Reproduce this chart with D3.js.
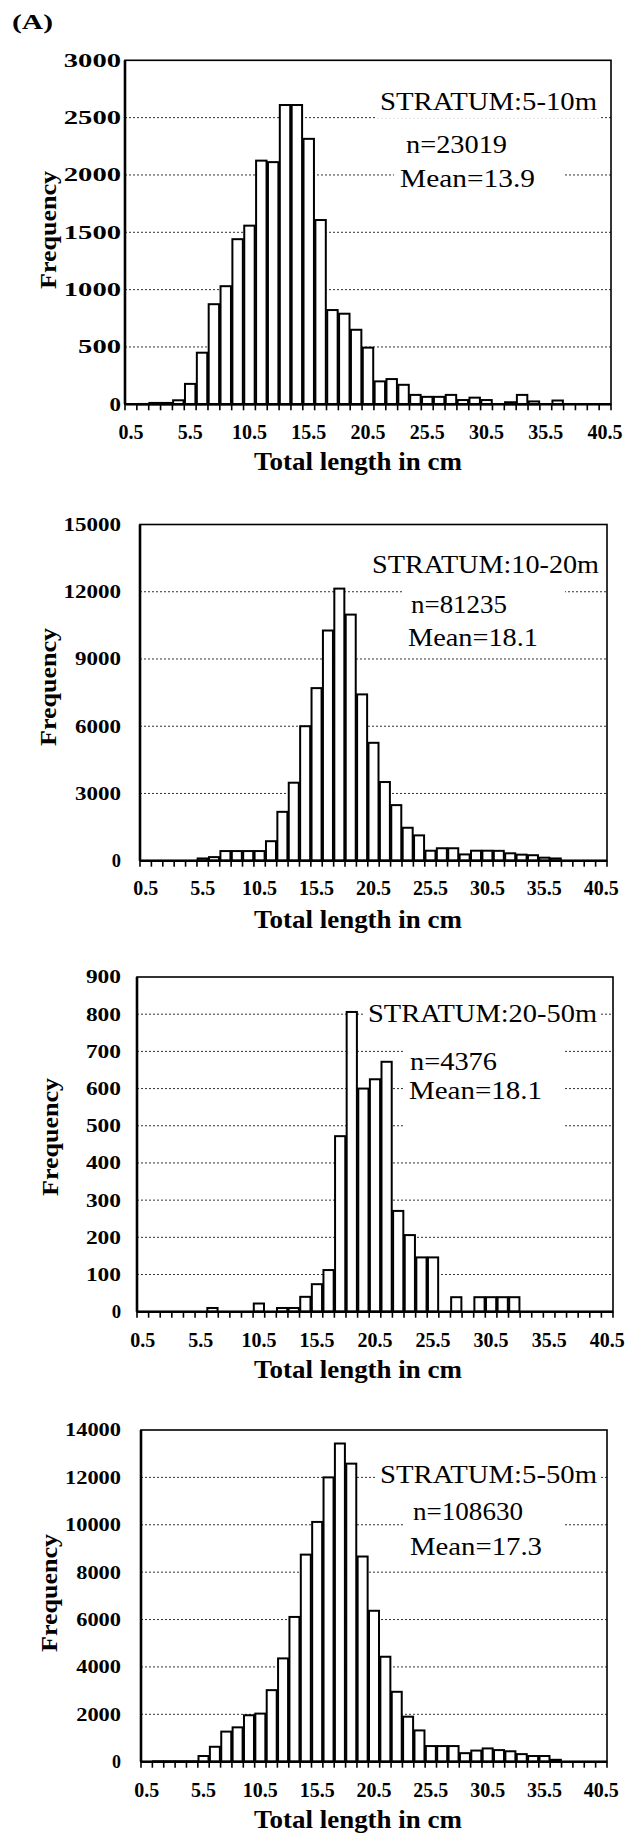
<!DOCTYPE html>
<html><head><meta charset="utf-8">
<script src="https://cdn.jsdelivr.net/npm/d3@7"></script>
<style>body{margin:0;background:#fff}svg{display:block}</style>
</head><body>
<svg id="c" width="631" height="1840"></svg>
<script>
// ---------------- DATA ----------------
const categories = ["0.5","1.5","2.5","3.5","4.5","5.5","6.5","7.5","8.5","9.5",
  "10.5","11.5","12.5","13.5","14.5","15.5","16.5","17.5","18.5","19.5",
  "20.5","21.5","22.5","23.5","24.5","25.5","26.5","27.5","28.5","29.5",
  "30.5","31.5","32.5","33.5","34.5","35.5","36.5","37.5","38.5","39.5","40.5"];
const xTickLabels = ["0.5","5.5","10.5","15.5","20.5","25.5","30.5","35.5","40.5"];

const freq5to10 = [0,3,12,12,35,178,450,873,1030,1440,
  1558,2125,2112,2610,2610,2315,1607,822,790,650,
  494,200,220,170,82,65,65,82,37,58,
  37,0,18,82,25,0,33,0,0,0,0];
const freq10to20 = [0,0,0,0,0,100,160,430,430,430,
  430,870,2180,3480,6000,7700,10270,12140,10980,7420,
  5260,3510,2480,1470,1130,445,555,555,280,445,
  445,440,330,270,245,135,100,0,0,0,0];
const freq20to50 = [0,0,0,0,0,0,10,0,0,0,
  22,0,10,10,40,74,112,472,806,600,
  625,672,271,206,146,146,0,39,0,39,
  39,39,39,0,0,0,0,0,0,0,0];
const freq5to50 = [0,15,15,15,15,240,630,1270,1450,1960,
  2030,3020,4360,6110,8740,10120,12000,13430,12580,8660,
  6370,4430,2950,1900,1320,660,660,660,360,470,
  560,490,440,320,240,240,80,0,0,0,0];

const yTicks5to10 = [0,500,1000,1500,2000,2500,3000];
const yTicks10to20 = [0,3000,6000,9000,12000,15000];
const yTicks20to50 = [0,100,200,300,400,500,600,700,800,900];
const yTicks5to50 = [0,2000,4000,6000,8000,10000,12000,14000];

const stratumLabels = ["STRATUM:5-10m","STRATUM:10-20m","STRATUM:20-50m","STRATUM:5-50m"];
const nLabels = ["n=23019","n=81235","n=4376","n=108630"];
const meanLabels = ["Mean=13.9","Mean=18.1","Mean=18.1","Mean=17.3"];
const panelTag = "(A)";
const xTitle = "Total length in cm";
const yTitle = "Frequency";

const series = [freq5to10, freq10to20, freq20to50, freq5to50];
const yTickSets = [yTicks5to10, yTicks10to20, yTicks20to50, yTicks5to50];

// ---------------- LAYOUT ----------------
const layout = [
  {x0:125, x1:611, yb:404.3, yt:60.3, cw:14.3, xlb:439, tb:470, fx:56, fy:230,
   s:{x:380,b:110,w:217}, n:{x:406,b:153,w:101}, m:{x:400,b:187,w:135}, bb:10},
  {x0:140, x1:607, yb:860.7, yt:524.5, cw:11.5, xlb:895, tb:928, fx:56, fy:687,
   s:{x:372,b:573,w:227}, n:{x:411,b:613,w:96}, m:{x:408,b:646,w:130}, bb:10},
  {x0:137, x1:613, yb:1311.7, yt:977, cw:11.7, xlb:1347, tb:1378, fx:58, fy:1137,
   s:{x:368,b:1022,w:229}, n:{x:410,b:1070,w:87}, m:{x:409,b:1099,w:133}, bb:30},
  {x0:141, x1:607, yb:1761.7, yt:1430, cw:11.2, xlb:1797, tb:1828, fx:57, fy:1593,
   s:{x:380,b:1483,w:217}, n:{x:413,b:1520,w:110}, m:{x:410,b:1555,w:132}, bb:8}
];

const FONT = "'Liberation Serif','Times New Roman',serif";
const svg = d3.select("#c");

svg.append("text").attr("x",12).attr("y",29)
  .attr("font-family",FONT).attr("font-weight","bold").attr("font-size",22)
  .attr("textLength",41).attr("lengthAdjust","spacingAndGlyphs")
  .text(panelTag);

layout.forEach((L, p) => {
  const data = series[p];
  const ticks = yTickSets[p];
  const yMax = ticks[ticks.length-1];
  const g = svg.append("g");

  const x = d3.scaleBand().domain(categories).range([L.x0, L.x1]).padding(0);
  const y = d3.scaleLinear().domain([0, yMax]).range([L.yb, L.yt]);
  const bw = x.bandwidth();

  // gridlines
  g.selectAll("line.grid").data(ticks.filter(t => t > 0 && t < yMax)).enter()
    .append("line").attr("class","grid")
    .attr("x1", L.x0).attr("x2", L.x1)
    .attr("y1", d => y(d)).attr("y2", d => y(d))
    .attr("stroke","#333").attr("stroke-width",1).attr("stroke-dasharray","2,2");

  // bars
  g.selectAll("rect.bar").data(categories.map((c,i)=>({c, v:data[i]})).filter(d=>d.v>0)).enter()
    .append("rect").attr("class","bar")
    .attr("x", d => x(d.c) + bw*0.06)
    .attr("width", bw*0.88)
    .attr("y", d => y(d.v))
    .attr("height", d => y(0) - y(d.v))
    .attr("fill","#fff").attr("stroke","#000").attr("stroke-width",2);

  // text boxes
  const fs = 25;
  g.append("rect").attr("x", L.s.x-4).attr("y", L.s.b-21).attr("width", L.s.w+8).attr("height", 29).attr("fill","#fff");
  const bx0 = Math.min(L.n.x, L.m.x) - 6;
  g.append("rect").attr("x", bx0).attr("y", L.n.b-23).attr("width", 565-bx0)
    .attr("height", (L.m.b + L.bb) - (L.n.b-23)).attr("fill","#fff");
  [[stratumLabels[p], L.s],[nLabels[p], L.n],[meanLabels[p], L.m]].forEach(([t,pos]) => {
    g.append("text").attr("x", pos.x).attr("y", pos.b)
      .attr("font-family",FONT).attr("font-size",fs)
      .attr("textLength",pos.w).attr("lengthAdjust","spacingAndGlyphs")
      .text(t);
  });

  // frame
  g.append("rect").attr("x",L.x0).attr("y",L.yt).attr("width",L.x1-L.x0).attr("height",L.yb-L.yt)
    .attr("fill","none").attr("stroke","#000").attr("stroke-width",1.6);
  g.append("line").attr("x1",L.x0).attr("x2",L.x0).attr("y1",L.yt).attr("y2",L.yb)
    .attr("stroke","#000").attr("stroke-width",2.6);
  g.append("line").attr("x1",L.x0).attr("x2",L.x1).attr("y1",L.yb).attr("y2",L.yb)
    .attr("stroke","#000").attr("stroke-width",2.6);

  // x ticks at category boundaries
  const bounds = categories.map(c => x(c)).concat([L.x1]);
  g.selectAll("line.xt").data(bounds).enter().append("line")
    .attr("x1", d=>d).attr("x2", d=>d).attr("y1", L.yb).attr("y2", L.yb+6)
    .attr("stroke","#000").attr("stroke-width",1.6);

  // x tick labels
  g.selectAll("text.xl").data(xTickLabels).enter().append("text")
    .attr("x", d => x(d) + bw/2).attr("y", L.xlb)
    .attr("text-anchor","middle")
    .attr("font-family",FONT).attr("font-weight","bold").attr("font-size",20)
    .text(d => d);

  // y tick labels
  g.selectAll("text.yl").data(ticks).enter().append("text")
    .attr("x", 121).attr("y", d => y(d) + 6.4)
    .attr("text-anchor","end")
    .attr("font-family",FONT).attr("font-weight","bold").attr("font-size",19)
    .attr("textLength", d => String(d).length * L.cw * (String(d).length===1 ? 0.8 : 1))
    .attr("lengthAdjust","spacingAndGlyphs")
    .text(d => d);

  // axis titles
  g.append("text").attr("x", 254).attr("y", L.tb)
    .attr("font-family",FONT).attr("font-weight","bold").attr("font-size",25)
    .attr("textLength",208).attr("lengthAdjust","spacingAndGlyphs")
    .text(xTitle);
  g.append("text").attr("transform",`translate(${L.fx},${L.fy}) rotate(-90)`)
    .attr("text-anchor","middle")
    .attr("font-family",FONT).attr("font-weight","bold").attr("font-size",24)
    .attr("textLength",118).attr("lengthAdjust","spacingAndGlyphs")
    .text(yTitle);
});
</script>
</body></html>
